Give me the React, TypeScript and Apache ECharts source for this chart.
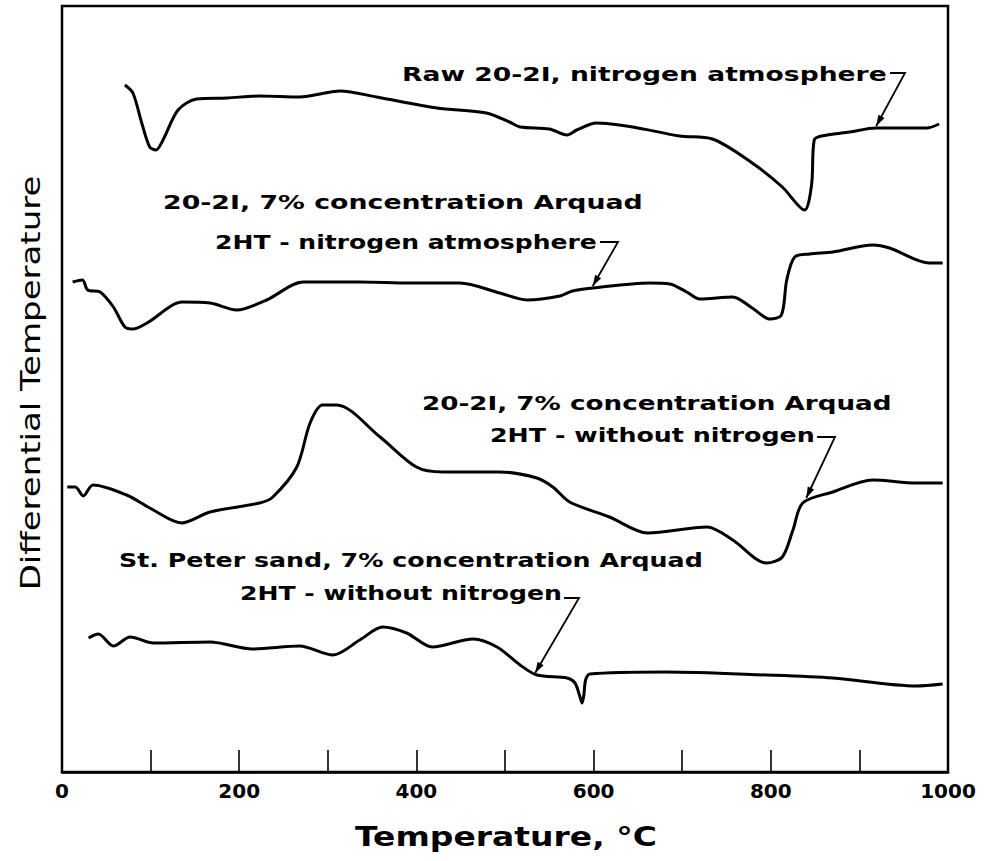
import React, { useEffect, useRef } from "react";
import * as echarts from "echarts";

// ---- Data (temperature °C, differential temperature in arbitrary units) ----
const rawNitrogen: [number, number][] = [
  [71, 687], [80, 679], [90, 649], [99, 625], [106, 622], [114, 632], [131, 662],
  [152, 673], [186, 674], [223, 676], [268, 675], [314, 681], [355, 675], [423, 664],
  [479, 659], [505, 650], [517, 645], [550, 643], [570, 637], [581, 642], [603, 649],
  [644, 645], [697, 636], [734, 633], [779, 609], [813, 585], [838, 562], [846, 587],
  [849, 632], [857, 636], [889, 640], [919, 644], [976, 644], [990, 648],
];

const arquadNitrogen: [number, number][] = [
  [12, 490], [23, 492], [29, 482], [43, 480], [58, 465], [71, 445], [80, 443],
  [96, 449], [136, 470], [167, 469], [197, 462], [231, 472], [272, 490], [336, 490],
  [393, 489], [449, 489], [494, 479], [525, 472], [562, 476], [576, 481], [599, 484],
  [663, 489], [686, 488], [705, 480], [720, 473], [757, 475], [779, 464], [799, 453],
  [812, 457], [818, 492], [827, 515], [844, 518], [870, 520], [915, 527], [934, 524],
  [979, 509], [994, 509],
];

const arquadAir: [number, number][] = [
  [6, 285], [15, 285], [24, 276], [35, 287], [73, 277], [99, 264], [135, 249],
  [167, 260], [223, 269], [238, 275], [265, 305], [280, 349], [294, 367], [310, 367],
  [359, 335], [400, 305], [430, 300], [494, 300], [536, 294], [554, 285], [573, 270],
  [618, 255], [661, 239], [728, 245], [757, 232], [795, 209], [813, 215], [825, 242],
  [836, 269], [870, 280], [915, 292], [964, 289], [994, 289],
];

const sandAir: [number, number][] = [
  [30, 134], [41, 138], [58, 126], [77, 135], [103, 129], [167, 130], [215, 123],
  [268, 126], [306, 117], [336, 132], [362, 145], [389, 139], [418, 125], [464, 133],
  [491, 125], [517, 107], [536, 97], [570, 94], [579, 89], [584, 77], [587, 69],
  [589, 77], [591, 92], [596, 98], [682, 100], [795, 97], [870, 94], [964, 86], [994, 88],
];

const seriesNames = [
  "Raw 20-2I, nitrogen atmosphere",
  "20-2I, 7% Arquad 2HT, nitrogen atmosphere",
  "20-2I, 7% Arquad 2HT, without nitrogen",
  "St. Peter sand, 7% Arquad 2HT, without nitrogen",
];

const xTickLabels = ["0", "200", "400", "600", "800", "1000"];
const xTitle = "Temperature, °C";
const yTitle = "Differential Temperature";

// Annotation texts and the data point each leader points to
const annotationTexts: string[][] = [
  ["Raw 20-2I, nitrogen atmosphere"],
  ["20-2I, 7% concentration Arquad", "2HT - nitrogen atmosphere"],
  ["20-2I, 7% concentration Arquad", "2HT - without nitrogen"],
  ["St. Peter sand, 7% concentration Arquad", "2HT - without nitrogen"],
];
const annotationTips: [number, number][] = [
  [919, 646],
  [599, 486],
  [840, 274],
  [534, 99],
];

// ---- Layout (pixels) ----
const LABEL_LAYOUT = [
  { lines: [{ left: 402, right: 887, y: 74 }], hook: [[890, 73], [905, 73]] },
  {
    lines: [
      { left: 163, right: 643, y: 202 },
      { left: 215, right: 597, y: 242 },
    ],
    hook: [[600, 242], [618, 242]],
  },
  {
    lines: [
      { left: 422, right: 892, y: 403 },
      { left: 490, right: 815, y: 435 },
    ],
    hook: [[817, 437], [835, 437]],
  },
  {
    lines: [
      { left: 119, right: 703, y: 560 },
      { left: 240, right: 562, y: 593 },
    ],
    hook: [[564, 598], [579, 598]],
  },
];

const FONT = '"DejaVu Sans", "Liberation Sans", sans-serif';

function measure(text: string, font: string): number {
  const c = document.createElement("canvas");
  const ctx = c.getContext("2d")!;
  ctx.font = font;
  return ctx.measureText(text).width || 1;
}

export default function App() {
  const ref = useRef<HTMLDivElement>(null);

  useEffect(() => {
    if (!ref.current) return;
    const chart = echarts.init(ref.current, null, { renderer: "svg" });
    const datasets = [rawNitrogen, arquadNitrogen, arquadAir, sandAir];

    chart.setOption({
      animation: false,
      backgroundColor: "#fff",
      grid: {
        left: 62,
        right: 49,
        top: 6,
        bottom: 89,
        show: true,
        borderColor: "#000",
        borderWidth: 2.5,
      },
      xAxis: {
        type: "value",
        min: 0,
        max: 1000,
        interval: 100,
        axisLine: { show: true, lineStyle: { color: "#000", width: 2.5 } },
        axisTick: { show: true, inside: true, length: 22, lineStyle: { color: "#000", width: 1.6 } },
        splitLine: { show: false },
        axisLabel: {
          margin: 9,
          color: "#000",
          fontSize: 20,
          fontWeight: "bold",
          fontFamily: FONT,
          formatter: (v: number) => {
            const s = String(v);
            return xTickLabels.indexOf(s) >= 0 ? s : "";
          },
        },
      },
      yAxis: {
        type: "value",
        min: 0,
        max: 766,
        axisLine: { show: false },
        axisTick: { show: false },
        axisLabel: { show: false },
        splitLine: { show: false },
      },
      series: datasets.map((d, i) => ({
        name: seriesNames[i],
        type: "line",
        data: d,
        showSymbol: false,
        smooth: 0.3,
        lineStyle: { color: "#000", width: 3 },
        z: 3,
      })),
    });

    const elements: any[] = [];
    const labelFont = `bold 20px ${FONT}`;
    annotationTexts.forEach((lines, i) => {
      const lay = LABEL_LAYOUT[i];
      lines.forEach((t, j) => {
        const L = lay.lines[j];
        const w = measure(t, labelFont);
        elements.push({
          type: "text",
          x: L.left,
          y: L.y,
          scaleX: (L.right - L.left) / w,
          style: {
            text: t,
            font: labelFont,
            fill: "#000",
            textAlign: "left",
            textVerticalAlign: "middle",
            align: "left",
            verticalAlign: "middle",
          },
          z: 10,
        });
      });
      const tip = chart.convertToPixel({ gridIndex: 0 }, annotationTips[i]) as number[];
      const [p0, p1] = lay.hook;
      elements.push({
        type: "polyline",
        shape: { points: [p0, p1, tip] },
        style: { stroke: "#000", lineWidth: 1.8, fill: null },
        z: 10,
      });
      const dx = tip[0] - p1[0];
      const dy = tip[1] - p1[1];
      const len = Math.sqrt(dx * dx + dy * dy);
      const ux = dx / len;
      const uy = dy / len;
      const AL = 11;
      const AW = 3.5;
      const bx = tip[0] - ux * AL;
      const by = tip[1] - uy * AL;
      elements.push({
        type: "polygon",
        shape: {
          points: [
            [tip[0], tip[1]],
            [bx - uy * AW, by + ux * AW],
            [bx + uy * AW, by - ux * AW],
          ],
        },
        style: { fill: "#000" },
        z: 10,
      });
    });

    const xFont = `bold 26px ${FONT}`;
    const xw = measure(xTitle, xFont);
    elements.push({
      type: "text",
      x: 355,
      y: 837,
      scaleX: (657 - 355) / xw,
      style: {
        text: xTitle,
        font: xFont,
        fill: "#000",
        textAlign: "left",
        textVerticalAlign: "middle",
        align: "left",
        verticalAlign: "middle",
      },
    });

    const yFont = `26px ${FONT}`;
    const yw = measure(yTitle, yFont);
    elements.push({
      type: "text",
      x: 31,
      y: 383,
      rotation: Math.PI / 2,
      scaleX: 415 / yw,
      style: {
        text: yTitle,
        font: yFont,
        fill: "#000",
        textAlign: "center",
        textVerticalAlign: "middle",
        align: "center",
        verticalAlign: "middle",
      },
    });

    chart.setOption({ graphic: { elements } });

    return () => chart.dispose();
  }, []);

  return (
    <div
      ref={ref}
      style={{ position: "fixed", left: 0, top: 0, width: 997, height: 861, background: "#fff" }}
    />
  );
}
